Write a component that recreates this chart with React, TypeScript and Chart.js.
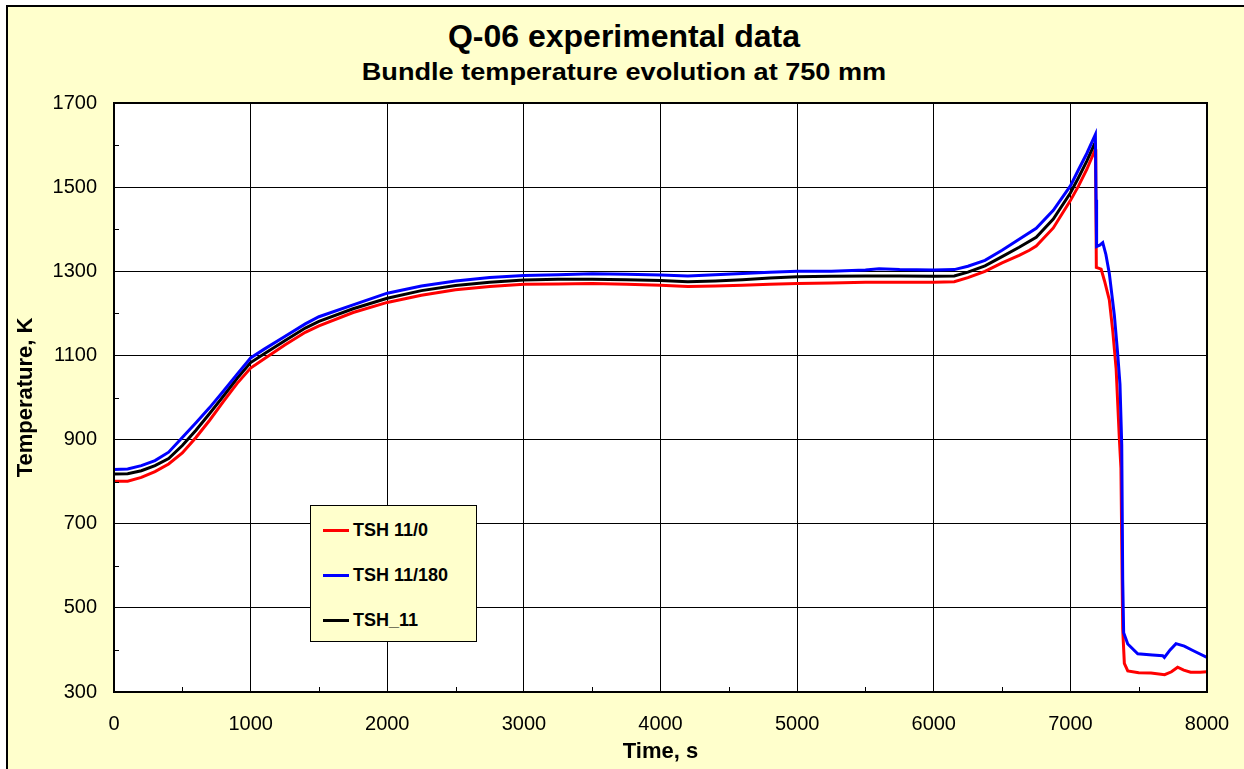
import React, { useEffect, useRef } from 'react';
import { Chart, registerables } from 'chart.js';

Chart.register(...registerables);

const FONT = "'Liberation Sans', Arial, Helvetica, sans-serif";

// ---- data (time in s, temperature in K) ----
const redTime = [0, 100, 200, 300, 400, 500, 600, 700, 800, 900, 1000, 1100, 1250, 1400, 1500, 1750, 2000, 2250, 2500, 2750, 3000, 3250, 3500, 3750, 4000, 4200, 4400, 4600, 4800, 5000, 5250, 5500, 5750, 6000, 6150, 6250, 6375, 6500, 6625, 6700, 6750, 6875, 7000, 7060, 7120, 7183, 7186, 7190, 7225, 7250, 7285, 7310, 7335, 7358, 7370, 7383, 7395, 7420, 7500, 7590, 7690, 7740, 7785, 7830, 7880, 7950, 8000];
const redTemp = [801, 801, 810, 824, 842, 868, 905, 946, 990, 1033, 1070, 1092, 1125, 1155, 1170, 1202, 1226, 1243, 1256, 1264, 1269, 1270, 1271, 1269, 1267, 1264, 1265, 1267, 1269, 1271, 1272, 1274, 1274, 1274, 1275, 1285, 1300, 1320, 1338, 1350, 1360, 1403, 1468, 1503, 1542, 1590, 1500, 1309, 1305, 1277, 1232, 1159, 1068, 905, 832, 450, 368, 350, 346, 345, 341, 348, 359, 352, 347, 347, 348];

const blueTime = [0, 100, 200, 300, 400, 500, 600, 700, 800, 900, 1000, 1100, 1250, 1400, 1500, 1750, 2000, 2250, 2500, 2750, 3000, 3250, 3500, 3750, 4000, 4200, 4400, 4600, 4800, 5000, 5250, 5500, 5600, 5750, 6000, 6150, 6250, 6375, 6500, 6625, 6750, 6875, 7000, 7060, 7120, 7183, 7188, 7192, 7215, 7237, 7260, 7285, 7322, 7346, 7363, 7376, 7383, 7390, 7420, 7493, 7600, 7676, 7688, 7730, 7773, 7834, 7900, 8000];
const blueTemp = [829, 830, 838, 850, 870, 905, 940, 976, 1015, 1055, 1094, 1115, 1145, 1175, 1192, 1220, 1248, 1265, 1277, 1285, 1290, 1292, 1294, 1293, 1291, 1289, 1292, 1295, 1298, 1300, 1300, 1303, 1306, 1304, 1303, 1304, 1312, 1326, 1350, 1376, 1402, 1445, 1503, 1542, 1580, 1625, 1470, 1359, 1362, 1368, 1340, 1295, 1195, 1105, 1032, 887, 568, 441, 414, 391, 388, 386, 382, 400, 415, 409, 398, 382];

const blackTime = [0, 100, 200, 300, 400, 500, 600, 700, 800, 900, 1000, 1100, 1250, 1400, 1500, 1750, 2000, 2250, 2500, 2750, 3000, 3250, 3500, 3750, 4000, 4200, 4400, 4600, 4800, 5000, 5250, 5500, 5750, 6000, 6150, 6250, 6375, 6500, 6625, 6750, 6875, 7000, 7060, 7120, 7180];
const blackTemp = [818, 819, 826, 838, 855, 886, 922, 962, 1003, 1045, 1083, 1104, 1135, 1165, 1181, 1211, 1236, 1254, 1266, 1274, 1279, 1281, 1281, 1280, 1278, 1275, 1277, 1280, 1284, 1287, 1288, 1289, 1289, 1288, 1289, 1298, 1313, 1335, 1357, 1381, 1424, 1486, 1523, 1562, 1605];

const seriesNames = ['TSH 11/0', 'TSH 11/180', 'TSH_11'];
const seriesColors = ['#FF0000', '#0000FF', '#000000'];

const titleText = 'Q-06 experimental data';
const subtitleText = 'Bundle temperature evolution at 750 mm';

const minorXTicks = [500, 1500, 2500, 3500, 4500, 5500, 6500, 7500];
const minorYTicks = [400, 600, 800, 1000, 1200, 1400, 1600];

const toPoints = (xs: number[], ys: number[]) => xs.map((x, i) => ({ x, y: ys[i] }));

const plotDecor = {
  id: 'plotDecor',
  beforeDraw(chart: any) {
    const { ctx, chartArea: a } = chart;
    ctx.save();
    ctx.fillStyle = '#FFFFFF';
    ctx.fillRect(a.left, a.top, a.right - a.left, a.bottom - a.top);
    ctx.restore();
  },
  afterDraw(chart: any) {
    const { ctx, chartArea: a, scales } = chart;
    ctx.save();
    ctx.strokeStyle = '#000';
    ctx.lineWidth = 1;
    ctx.beginPath();
    minorXTicks.forEach((v) => {
      const px = Math.round(scales.x.getPixelForValue(v)) + 0.5;
      ctx.moveTo(px, a.bottom);
      ctx.lineTo(px, a.bottom - 5);
    });
    minorYTicks.forEach((v) => {
      const py = Math.round(scales.y.getPixelForValue(v)) + 0.5;
      ctx.moveTo(a.left, py);
      ctx.lineTo(a.left + 5, py);
    });
    ctx.stroke();
    ctx.lineWidth = 2;
    ctx.strokeRect(a.left, a.top, a.right - a.left, a.bottom - a.top);
    ctx.restore();
  },
};

export default function App() {
  const canvasRef = useRef<HTMLCanvasElement | null>(null);

  useEffect(() => {
    const canvas = canvasRef.current;
    if (!canvas) return;
    const chart = new Chart(canvas, {
      type: 'scatter',
      data: {
        datasets: [
          { label: seriesNames[0], data: toPoints(redTime, redTemp), borderColor: seriesColors[0], backgroundColor: seriesColors[0], showLine: true, pointRadius: 0, borderWidth: 3, order: 3 },
          { label: seriesNames[1], data: toPoints(blueTime, blueTemp), borderColor: seriesColors[1], backgroundColor: seriesColors[1], showLine: true, pointRadius: 0, borderWidth: 3, order: 1 },
          { label: seriesNames[2], data: toPoints(blackTime, blackTemp), borderColor: seriesColors[2], backgroundColor: seriesColors[2], showLine: true, pointRadius: 0, borderWidth: 3, order: 2 },
        ],
      },
      options: {
        animation: false,
        responsive: false,
        events: [],
        layout: { padding: { left: 0, right: 37, top: 103, bottom: 0 } },
        plugins: {
          legend: { display: false },
          tooltip: { enabled: false },
          title: { display: false },
        },
        scales: {
          x: {
            type: 'linear',
            min: 0,
            max: 8000,
            afterFit(scale: any) { scale.height = 77; scale.paddingLeft = 0; scale.paddingRight = 0; },
            ticks: { stepSize: 1000, color: '#000', font: { family: FONT, size: 20 }, padding: 20, maxRotation: 0, callback: (v: any) => String(v) },
            grid: { color: '#000', lineWidth: 1, drawTicks: false },
            border: { display: true, color: '#000', width: 2 },
            title: { display: true, text: 'Time, s', color: '#000', font: { family: FONT, size: 22, weight: 'bold' }, padding: { top: 0, bottom: 4 } },
          },
          y: {
            type: 'linear',
            min: 300,
            max: 1700,
            afterFit(scale: any) { scale.width = 114; scale.paddingTop = 0; scale.paddingBottom = 0; },
            ticks: { stepSize: 200, color: '#000', font: { family: FONT, size: 20 }, padding: 17, callback: (v: any) => String(v) },
            grid: { color: '#000', lineWidth: 1, drawTicks: false },
            border: { display: true, color: '#000', width: 2 },
            title: { display: true, text: 'Temperature, K', color: '#000', font: { family: FONT, size: 22, weight: 'bold' }, padding: { top: 13, bottom: 0 } },
          },
        },
      },
      plugins: [plotDecor],
    } as any);
    return () => chart.destroy();
  }, []);

  const legendRows = [529, 574, 619];

  return (
    <div style={{ position: 'fixed', left: 0, top: 0, width: 1244, height: 769, background: '#FFFFFF', overflow: 'hidden' }}>
      <div style={{ position: 'absolute', left: 6, top: 5, width: 1260, height: 800, background: '#FFFFCC', borderLeft: '2px solid #000', borderTop: '2px solid #000' }} />
      <div style={{ position: 'absolute', left: 0, top: 17, width: 1248, textAlign: 'center', fontFamily: FONT, fontWeight: 'bold', fontSize: 32, lineHeight: '38px', color: '#000', whiteSpace: 'nowrap' }}>
        {titleText}
      </div>
      <div style={{ position: 'absolute', left: 0, top: 58, width: 1248, textAlign: 'center', fontFamily: FONT, fontWeight: 'bold', fontSize: 24, lineHeight: '28px', color: '#000', whiteSpace: 'nowrap', transform: 'scaleX(1.13)', transformOrigin: '624px 0' }}>
        {subtitleText}
      </div>
      <canvas ref={canvasRef} width={1244} height={769} style={{ position: 'absolute', left: 0, top: 0, width: 1244, height: 769 }} />
      <div style={{ position: 'absolute', left: 310, top: 505, width: 165, height: 135, background: '#FFFFCC', border: '1px solid #000' }}>
        {seriesNames.map((name, i) => (
          <div key={name} style={{ position: 'absolute', left: 12, top: legendRows[i] - 505 - 12, height: 24, display: 'flex', alignItems: 'center', whiteSpace: 'nowrap' }}>
            <span style={{ display: 'inline-block', width: 26, height: 3, background: seriesColors[i], marginRight: 4 }} />
            <span style={{ fontFamily: FONT, fontWeight: 'bold', fontSize: 18, color: '#000' }}>{name}</span>
          </div>
        ))}
      </div>
    </div>
  );
}
